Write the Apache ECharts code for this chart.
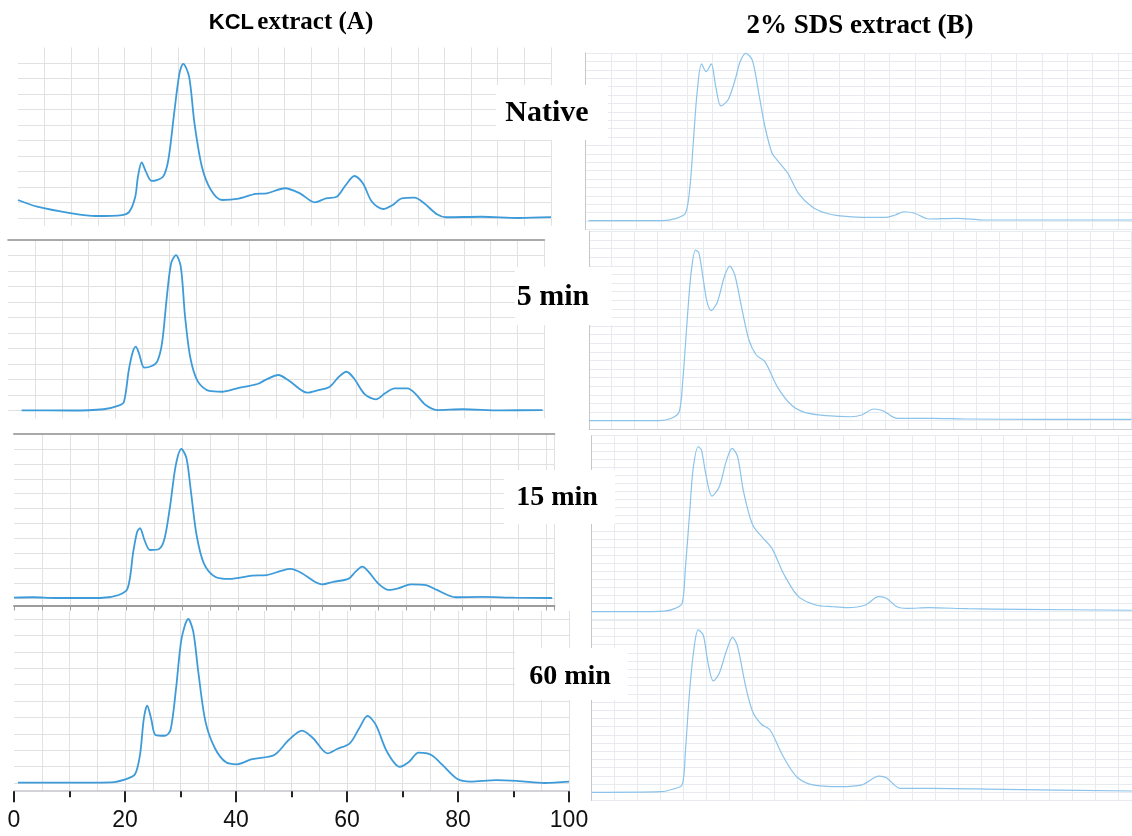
<!DOCTYPE html>
<html>
<head>
<meta charset="utf-8">
<title>KCL / 2% SDS extract chromatograms</title>
<script src="https://cdn.jsdelivr.net/npm/echarts@6.0.0/dist/echarts.min.js"></script>
<style>
  html, body { margin: 0; padding: 0; background: #fff; }
  #chart { width: 1132px; height: 836px; }
</style>
</head>
<body>
<div id="chart"></div>
<script>
// retention time (min) vs relative absorbance (%)
const kclNative = [[0, 11.6], [3.6, 7.3], [9.8, 3.2], [14.6, 1.3], [19.5, 1.9], [20.9, 4.1], [22.0, 13.7], [22.5, 26.6], [23.2, 35.9], [24.0, 29.9], [25.1, 23.9], [27.2, 26.6], [28.2, 37.4], [29.3, 67.7], [30.3, 93.5], [31.0, 99.4], [32.1, 91.2], [33.1, 61.3], [34.5, 33.1], [36.2, 18.1], [38.3, 11.6], [41.1, 12.3], [44.6, 15.5], [46.7, 15.9], [50.1, 19.2], [52.9, 15.9], [55.7, 10.1], [57.8, 12.7], [59.8, 13.7], [61.5, 21.3], [63.1, 27.1], [64.7, 22.4], [66.4, 10.5], [68.5, 5.8], [70.3, 8.4], [72.0, 12.7], [74.4, 13.1], [76.2, 9.5], [78.6, 2.4], [80.3, 0.5], [87.0, 0.8], [93.9, 0], [100, 0.5]];
const kcl5 = [[2.5, 0.1], [11.6, 0], [17.8, 0.8], [20.6, 3.1], [21.6, 5.7], [22.5, 26.1], [23.2, 37.3], [23.8, 41.2], [24.4, 36.9], [25.4, 27.6], [26.8, 28.7], [27.8, 31.5], [28.7, 43.4], [29.6, 73.4], [30.4, 95], [31.3, 100.3], [32.2, 92.8], [33.0, 60.5], [34.0, 33.7], [35.4, 18.6], [37.5, 12.6], [39.9, 12.1], [42.7, 14.3], [46.5, 17.1], [48.2, 20.1], [50.4, 22.9], [52.4, 19.2], [55.8, 11.5], [57.9, 13.2], [60.0, 15.4], [61.7, 21.8], [63.1, 25.0], [64.5, 20.8], [66.5, 10.6], [68.6, 7.2], [70.3, 11.1], [72.1, 14.3], [74.5, 14.3], [75.9, 11.1], [77.9, 3.5], [80.0, 0.3], [84.8, 0.8], [91.8, 0.1], [99.7, 0.3]];
const kcl15 = [[0, 0.2], [3.4, 0.5], [7.4, 0], [15.4, 0], [18.7, 2.0], [20.3, 6.5], [21.3, 31.1], [22.0, 44.5], [22.5, 46.8], [23.3, 38.9], [24.3, 32.2], [25.9, 32.9], [26.9, 40.1], [27.9, 62.4], [28.9, 89.3], [29.9, 100], [30.8, 93.8], [31.6, 71.3], [32.6, 42.3], [33.9, 23.3], [35.9, 14.3], [38.5, 12.8], [42.5, 15.0], [45.1, 15.4], [47.8, 18.3], [49.4, 19.5], [51.4, 16.6], [53.7, 10.9], [55.0, 9.2], [57.0, 10.9], [59.7, 12.8], [61.0, 17.7], [62.2, 21.0], [63.3, 17.7], [65.0, 9.9], [66.9, 5.4], [68.6, 6.5], [70.9, 9.2], [73.6, 8.7], [75.5, 5.4], [78.9, 0.5], [83.5, 0.7], [89.4, 0.2], [96.1, 0]];
const kcl60 = [[0.7, 0.2], [7.5, 0.2], [17.5, 0.4], [20.2, 2.4], [21.8, 5.3], [22.7, 17.1], [23.4, 39.4], [24.0, 47.1], [24.7, 39.4], [25.5, 29.3], [27.2, 28.8], [28.2, 32.3], [29.2, 57.7], [30.2, 88.2], [31.4, 100], [32.3, 92.3], [33.2, 67.9], [34.5, 37.4], [36.2, 21.2], [38.2, 12.6], [40.2, 11.4], [42.9, 14.6], [46.9, 17.1], [49.5, 26.2], [51.9, 31.9], [53.9, 27.3], [56.5, 18.1], [58.2, 20.7], [60.5, 24.2], [62.2, 33.4], [63.7, 40.9], [65.2, 35.4], [67.2, 19.1], [69.5, 9.9], [71.2, 13.0], [72.9, 18.5], [75.2, 17.1], [77.2, 11.0], [79.9, 2.4], [82.2, 0.8], [86.9, 1.8], [90.9, 1.2], [95.6, 0], [100, 0.8]];

const sdsNative = [[0.6, 0.2], [15.2, 0.2], [17.7, 1.4], [19.7, 4.6], [20.6, 20.4], [21.3, 48.2], [22.0, 76.0], [22.9, 93.5], [23.8, 88.9], [24.8, 93.5], [25.7, 79.9], [26.7, 68.5], [28.1, 72.0], [29.5, 83.9], [30.5, 94.8], [31.6, 99.8], [32.9, 95.8], [34.3, 74.0], [35.4, 56.1], [36.8, 40.3], [37.8, 36.3], [39.9, 28.4], [42.0, 16.5], [44.8, 8.2], [47.5, 4.6], [50.3, 3.0], [54.5, 2.2], [59.3, 2.2], [61.1, 3.6], [62.8, 5.5], [64.9, 4.6], [67.7, 1.2], [73.2, 1.6], [78.8, 0.6], [89.2, 0.6], [107.8, 0.6]];
const sds5 = [[0, 0], [8.5, 0], [15.4, 0], [18.1, 1.4], [19.8, 5.2], [20.6, 23.7], [21.4, 52.7], [22.4, 85.7], [23.4, 99.2], [24.1, 97.7], [25.1, 81.8], [25.9, 69.2], [26.8, 64.0], [28.2, 69.2], [29.7, 83.7], [30.9, 89.9], [32.0, 84.7], [33.6, 64.4], [35.1, 46.9], [36.7, 38.2], [38.6, 34.3], [41.3, 19.8], [44.4, 9.1], [47.5, 4.7], [52.1, 2.9], [57.5, 2.3], [59.8, 3.3], [62.5, 6.8], [64.5, 5.8], [67.5, 1.4], [75.3, 1.4], [83.0, 1.0], [98.4, 0.8], [119, 0.8]];
const sds15 = [[0, 0], [9.0, 0], [15.9, 0.4], [18.3, 2.1], [19.8, 5.2], [20.5, 27.1], [21.5, 64.6], [22.2, 89.6], [23.3, 103.1], [24.0, 101.1], [25.0, 85.4], [26.3, 72.3], [27.9, 78.1], [29.4, 93.8], [30.7, 102.1], [31.9, 96.9], [33.2, 75.0], [35.2, 54.2], [37.5, 45.9], [39.4, 39.6], [42.1, 22.9], [45.2, 9.4], [49.0, 4.2], [52.8, 3.1], [55.9, 2.5], [59.8, 4.2], [62.7, 9.4], [64.4, 8.4], [66.7, 3.1], [69.0, 2.1], [73.6, 2.5], [82.1, 1.9], [93.6, 1.5], [118, 0.9]];
const sds60 = [[0, 0], [15.2, 0.4], [17.9, 2.0], [19.8, 4.5], [20.5, 24.8], [21.3, 57.3], [22.2, 83.7], [23.3, 99.0], [24.4, 95.9], [25.4, 79.6], [26.6, 67.9], [27.9, 72.6], [29.4, 85.7], [30.8, 94.5], [31.9, 88.8], [33.6, 65.4], [35.2, 49.1], [37.1, 41.5], [39.0, 38.0], [41.7, 22.7], [44.8, 9.5], [48.3, 4.5], [54.4, 3.4], [59.0, 4.5], [62.8, 9.9], [64.4, 8.9], [67.4, 2.4], [74.4, 2.4], [89.7, 1.8], [118, 0.8]];

const panelLabels = ['Native', '5 min', '15 min', '60 min'];
const columnTitles = ['KCL extract (A)', '2% SDS extract (B)'];

const A_GRID = '#e1e1e1';
const B_GRID = '#e7eaee';
const A_LINE = '#3e9bd9';
const B_LINE = '#8cc3ea';

// each scanned sub-plot sits in its own box
const panels = [
  { data: kclNative, side: 'A', left: 18,    top: 47.5,  width: 533,   height: 178.25, xMax: 100,   yMin: -5, yMax: 110 },
  { data: kcl5,      side: 'A', left: 8.2,   top: 240,   width: 536,   height: 178.25, xMax: 100,   yMin: -5, yMax: 110, topLine: true },
  { data: kcl15,     side: 'A', left: 14,    top: 434.1, width: 540.4, height: 171.35, xMax: 96.5,  yMin: -5, yMax: 110, topLine: true, bottomLine: true },
  { data: kcl60,     side: 'A', left: 14,    top: 610.8, width: 555,   height: 180.4,  xMax: 100,   yMin: -5, yMax: 105, timeAxis: true },
  { data: sdsNative, side: 'B', left: 585.5, top: 53,    width: 546.5, height: 176.4,  xMax: 107.8, yMin: -5, yMax: 100 },
  { data: sds5,      side: 'B', left: 588.9, top: 231.5, width: 542.6, height: 197.8,  xMax: 119,   yMin: -5, yMax: 110, bottomLine: true },
  { data: sds15,     side: 'B', left: 591.5, top: 435.7, width: 540.4, height: 184,    xMax: 118,   yMin: -5, yMax: 110 },
  { data: sds60,     side: 'B', left: 591.5, top: 620.1, width: 540.4, height: 180.4,  xMax: 118,   yMin: -5, yMax: 105 }
];

// white boxes that hold the treatment labels (they cut through the grids)
const labelBoxes = [
  { x: 496, y: 85,  w: 112, h: 55, cx: 547, cy: 113, size: 30 },
  { x: 515, y: 267, w: 97,  h: 58, cx: 553, cy: 297, size: 30 },
  { x: 504, y: 470, w: 111, h: 54, cx: 557, cy: 498, size: 28 },
  { x: 515, y: 648, w: 113, h: 52, cx: 570, cy: 677, size: 28 }
];

// one colour per tick, same tick list echarts builds (min, min+step, ..., max)
function tickColors(min, max, step, pick) {
  const out = [];
  let v = min;
  while (v <= max + 1e-9) {
    out.push(pick(v));
    v += step;
  }
  if (out.length && min + (out.length - 1) * step < max - 1e-9) out.push(pick(max));
  return out;
}

const grid = [];
const xAxis = [];
const yAxis = [];
const series = [];

panels.forEach((p, i) => {
  const isA = p.side === 'A';
  grid.push({ left: p.left, top: p.top, width: p.width, height: p.height, outerBoundsMode: 'none' });

  const xi = xAxis.length;
  xAxis.push({
    type: 'value', gridIndex: i, min: 0, max: p.xMax, interval: 5,
    axisLine: {
      show: !!p.bottomLine, onZero: false,
      lineStyle: { color: isA ? '#9c9c9c' : '#cdd1d6', width: isA ? 2 : 1 }
    },
    axisTick: { show: !!p.bottomLine && isA, length: 5, lineStyle: { color: '#9c9c9c' } },
    axisLabel: { show: false },
    splitLine: {
      show: true,
      lineStyle: {
        color: isA ? tickColors(0, p.xMax, 5, (v) => (v > 0 ? A_GRID : 'rgba(0,0,0,0)')) : B_GRID,
        width: 1
      }
    }
  });

  const yi = yAxis.length;
  yAxis.push({
    type: 'value', gridIndex: i, min: p.yMin, max: p.yMax, interval: 5,
    axisLine: { show: !isA, onZero: false, lineStyle: { color: '#c4c8cc' } },
    axisTick: { show: false },
    axisLabel: { show: false },
    splitLine: {
      show: true,
      lineStyle: {
        color: isA
          ? tickColors(p.yMin, p.yMax, 5, (v) => (v % 10 === 0 && v >= 0 && v <= 100 ? A_GRID : 'rgba(0,0,0,0)'))
          : B_GRID,
        width: 1
      }
    }
  });

  if (p.topLine) {
    xAxis.push({
      type: 'value', gridIndex: i, position: 'top', min: 0, max: p.xMax,
      axisLine: { show: true, onZero: false, lineStyle: { color: '#a9a9a9', width: 2 } },
      axisTick: { show: false }, axisLabel: { show: false }, splitLine: { show: false }
    });
  }
  if (p.timeAxis) {
    xAxis.push({
      type: 'value', gridIndex: i, position: 'bottom', min: 0, max: 100, interval: 20,
      axisLine: { show: true, onZero: false, lineStyle: { color: '#c4c4cc', width: 1.5 } },
      axisTick: { show: true, length: 11, lineStyle: { color: '#222', width: 2 } },
      minorTick: { show: true, splitNumber: 2, length: 6, lineStyle: { color: '#222', width: 2 } },
      axisLabel: {
        show: true, margin: 18, color: '#111', fontSize: 23,
        fontFamily: '"Liberation Sans Narrow", "Arial Narrow", "Liberation Sans", sans-serif'
      },
      splitLine: { show: false },
      minorSplitLine: { show: false }
    });
  }

  series.push({
    type: 'line',
    name: (isA ? 'KCL ' : 'SDS ') + panelLabels[i % 4],
    xAxisIndex: xi,
    yAxisIndex: yi,
    data: p.data,
    smooth: 0.3,
    symbol: 'none',
    silent: true,
    lineStyle: { color: isA ? A_LINE : B_LINE, width: isA ? 1.8 : 1.2 }
  });
});

const graphic = [];
labelBoxes.forEach((b, i) => {
  graphic.push({
    type: 'rect', z: 100,
    shape: { x: b.x, y: b.y, width: b.w, height: b.h },
    style: { fill: '#fff' }
  });
  graphic.push({
    type: 'text', z: 101,
    style: {
      x: b.cx, y: b.cy, text: panelLabels[i],
      font: 'bold ' + b.size + 'px "Liberation Serif", "DejaVu Serif", serif',
      fill: '#000', align: 'center', verticalAlign: 'middle'
    }
  });
});

graphic.push({
  type: 'text', z: 101,
  style: {
    x: 291, y: 23,
    text: '{k|KCL} {e|' + columnTitles[0].replace('KCL ', '') + '}',
    align: 'center', verticalAlign: 'middle',
    rich: {
      k: { font: 'bold 22px "Liberation Sans", sans-serif', fill: '#000' },
      e: { font: 'bold 25px "Liberation Serif", serif', fill: '#000' }
    }
  }
});
graphic.push({
  type: 'text', z: 101,
  style: {
    x: 860, y: 26, text: columnTitles[1],
    font: 'bold 27px "Liberation Serif", serif',
    fill: '#000', align: 'center', verticalAlign: 'middle'
  }
});

const chart = echarts.init(document.getElementById('chart'));
chart.setOption({
  animation: false,
  backgroundColor: '#fff',
  grid: grid,
  xAxis: xAxis,
  yAxis: yAxis,
  series: series,
  graphic: graphic
});
</script>
</body>
</html>
